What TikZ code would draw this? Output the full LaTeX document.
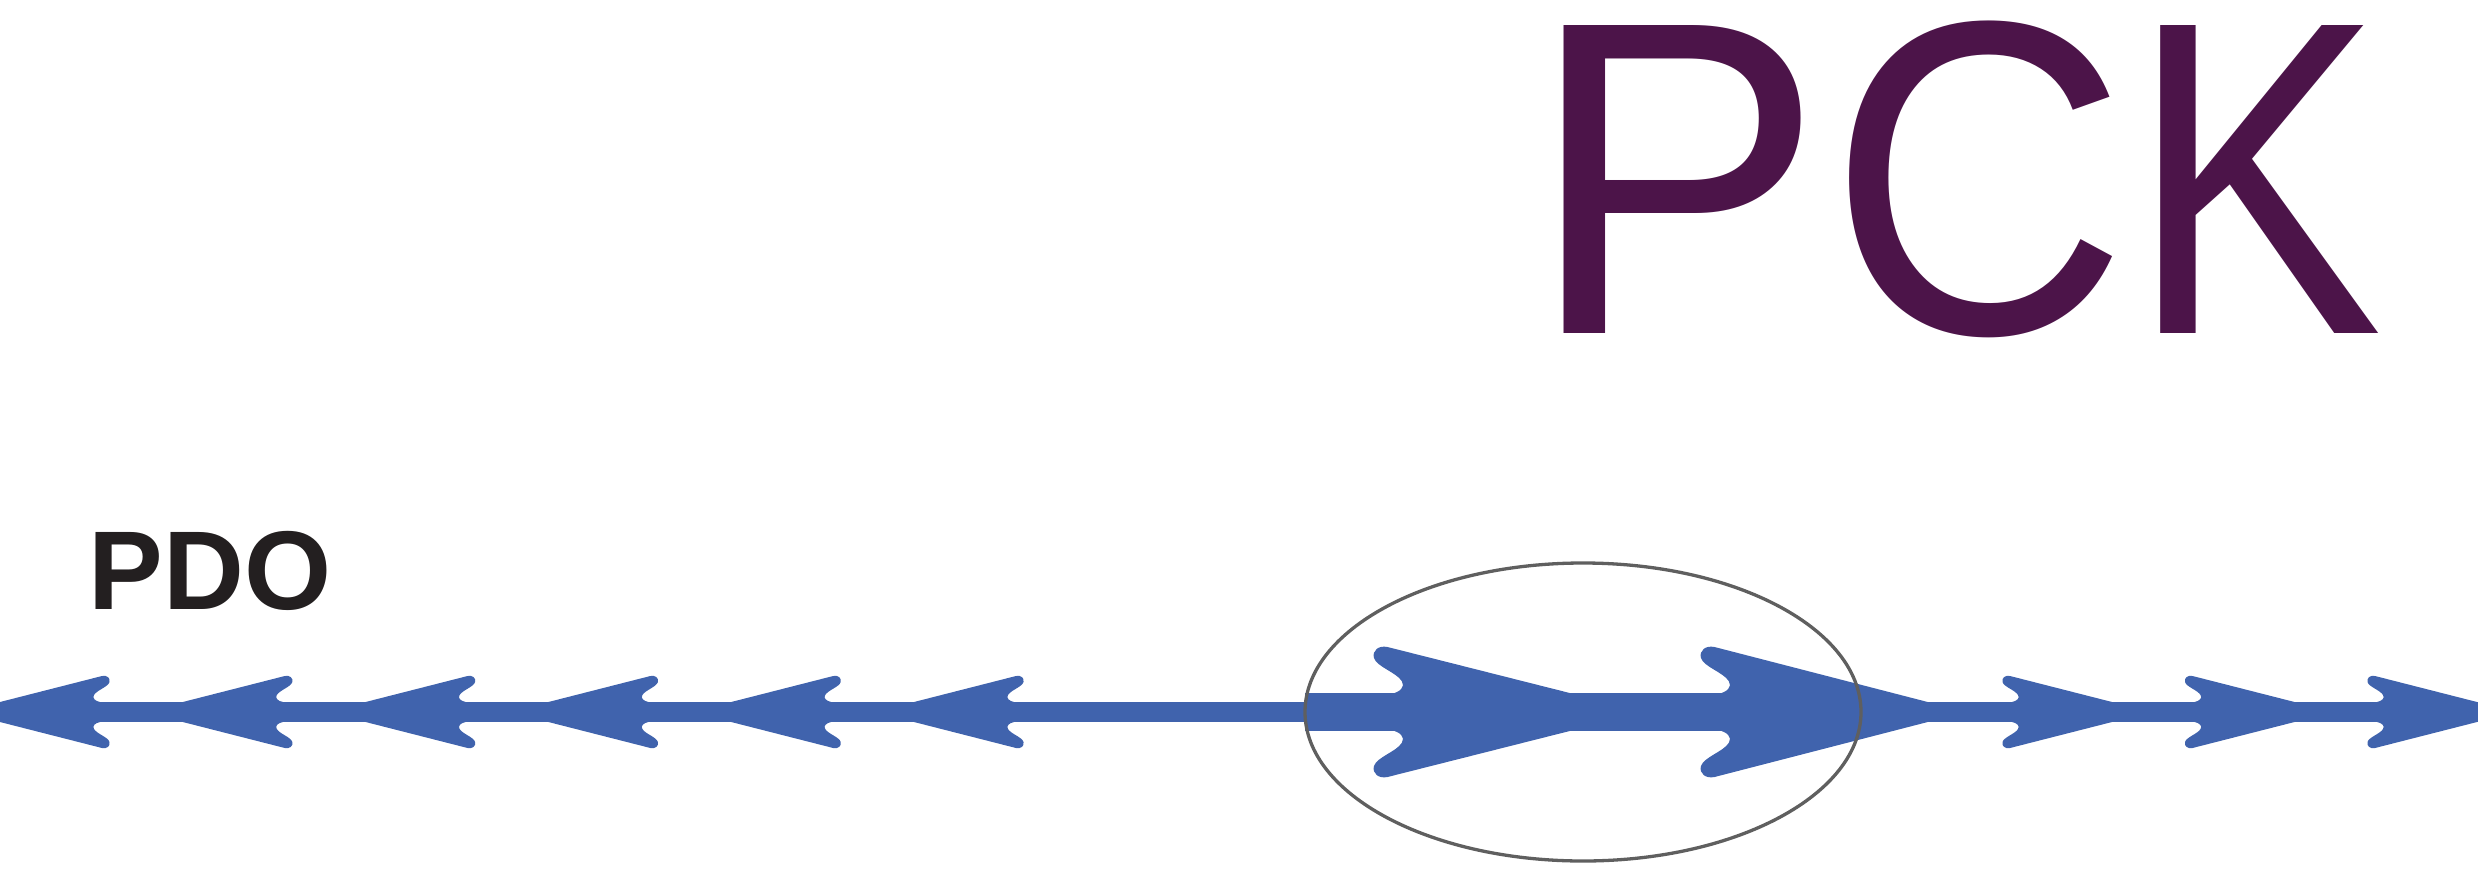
\documentclass[tikz,border=0pt]{standalone}
\usepackage{fontspec}
\setmainfont{Liberation Sans}
\newfontfamily\pckfont{Liberation Sans}
\usetikzlibrary{shapes.geometric}
\definecolor{arrowblue}{HTML}{4063AD}
\definecolor{pckpurple}{HTML}{4C1449}
\definecolor{pdoblack}{HTML}{231F20}
\definecolor{ringgray}{HTML}{5F5F5F}
% arrow head with barbs: #1 length (units), #2 front half width (units)
\newcommand{\headpath}[2]{(10,-10) .. controls (15,-11) and (18,-14) .. (16,-17)
 .. controls (13,-22) and (2,-25) .. (0.5,-30)
 .. controls (-0.5,-34) and (3,-37) .. (8,-36)
 -- (#1,-#2) -- (#1,#2) -- (8,36)
 .. controls (3,37) and (-0.5,34) .. (0.5,30)
 .. controls (2,25) and (13,22) .. (16,17)
 .. controls (18,14) and (15,11) .. (10,10) -- cycle}
\newcommand{\headR}[4]{\fill[arrowfill, shift={(#1,712)}, scale=#2] \headpath{#3}{#4};}
\newcommand{\headL}[4]{\fill[arrowfill, shift={(#1,712)}, xscale=-#2, yscale=#2] \headpath{#3}{#4};}
% glyph measurement for fitting the PCK letters
\newdimen\glsb \newdimen\grsb \newdimen\gadv \newdimen\ght
\newcommand{\pcksize}{\pckfont\fontsize{430}{430}\selectfont}
\newcommand{\glyphinfo}[1]{%
  \begingroup\pcksize
  \global\glsb=\XeTeXglyphbounds1 \XeTeXcharglyph`#1\relax
  \global\grsb=\XeTeXglyphbounds3 \XeTeXcharglyph`#1\relax
  \setbox0=\hbox{#1}\global\gadv=\wd0 \global\ght=\ht0 \relax
  \endgroup}
\begin{document}
\glyphinfo{P}%
\pgfmathsetmacro\sy{308/\ght}%
\pgfmathsetmacro\sxP{(1801-1564)/(\gadv-\glsb-\grsb)}%
\pgfmathsetmacro\oP{1564-\sxP*\glsb}%
\pgfmathsetmacro\eP{\oP+\sxP*\gadv}%
\glyphinfo{C}%
\pgfmathsetmacro\sxC{(2112-1849)/(\gadv-\glsb-\grsb)}%
\pgfmathsetmacro\oC{1849-\sxC*\glsb}%
\pgfmathsetmacro\kPC{\oC-\eP}%
\pgfmathsetmacro\eC{\oC+\sxC*\gadv}%
\glyphinfo{K}%
\pgfmathsetmacro\sxK{(2378-2160)/(\gadv-\glsb-\grsb)}%
\pgfmathsetmacro\oK{2160-\sxK*\glsb}%
\pgfmathsetmacro\kCK{\oK-\eC}%
\begin{tikzpicture}[x=1pt,y=-1pt,
  arrowfill/.style={fill=arrowblue},
  ring/.style={draw=ringgray, line width=3.3pt, ellipse, inner sep=0pt, fill=none},
  label/.style={anchor=base west, inner sep=0pt}]
\useasboundingbox (0,0) rectangle (2480,886);
% logo text
\node[label, text=pckpurple, font=\pcksize] (pck) at (\oP,333)
  {\scalebox{\sxP}[\sy]{P}\kern\kPC pt\scalebox{\sxC}[\sy]{C}\kern\kCK pt\scalebox{\sxK}[\sy]{K}};
\node[label, text=pdoblack, font=\fontsize{112}{112}\selectfont\bfseries] (pdo) at (88.5,609) {PDO};
% bands
\fill[arrowfill] (0,702) rectangle (1310,722);
\fill[arrowfill] (1305,693) rectangle (1725,731);
\fill[arrowfill] (1895,702) rectangle (2478,722);
% small heads pointing left
\foreach \k in {0,...,5} {\headL{110+182.8*\k}{1}{110}{10}}
% big heads in the ellipse
\headR{1373}{1.806}{109}{10.5}
\headR{1700}{1.806}{126.2}{5.5}
% small heads pointing right
\foreach \k in {0,1,2} {\headR{2002+182.5*\k}{1}{110}{10}}
% ellipse
\node[ring, minimum width=556pt, minimum height=298pt] (focus) at (1583,712) {};
\end{tikzpicture}
\end{document}
